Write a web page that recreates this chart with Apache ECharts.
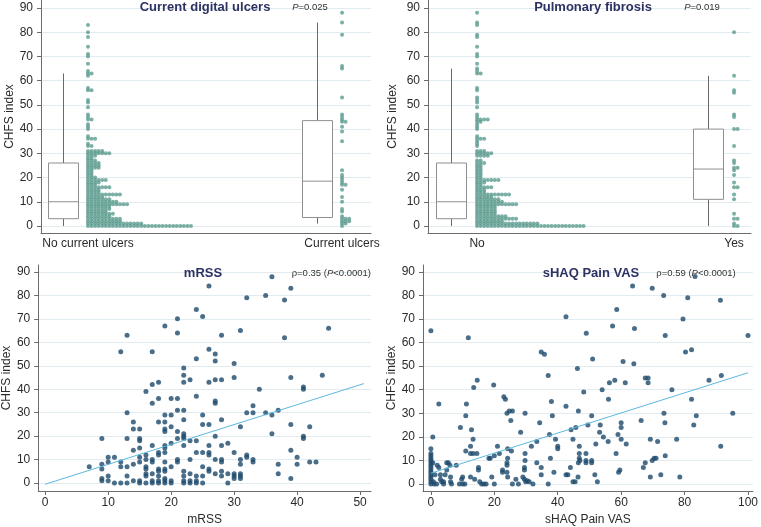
<!DOCTYPE html>
<html><head><meta charset="utf-8">
<script src="https://cdn.jsdelivr.net/npm/echarts@6/dist/echarts.min.js"></script>
<style>html,body{margin:0;padding:0;background:#fff}#c{width:761px;height:527px}</style>
</head><body><div id="c"></div>
<script>
const yTicks = [0,10,20,30,40,50,60,70,80,90];
const mrssTicks = [0,10,20,30,40,50];
const painTicks = [0,20,40,60,80,100];
const ulcerCats = ['No current ulcers','Current ulcers'];
const fibCats = ['No','Yes'];
// [CHFS index value, number of patients]
const ulcerNo = [[0,30],[1,16],[2,10],[3,10],[4,7],[5,8],[6,6],[7,7],[8,7],[9,12],[10,9],[11,7],[12,5],[13,10],[14,4],[15,4],[16,7],[17,3],[18,4],[19,6],[20,3],[21,2],[22,2],[23,2],[24,4],[25,4],[26,4],[27,3],[28,2],[29,3],[30,7],[31,5],[33,2],[34,1],[36,3],[37,1],[40,1],[41,1],[42,1],[44,2],[45,1],[46,1],[49,1],[51,1],[52,1],[56,2],[57,1],[62,1],[63,2],[64,1],[67,1],[70,1],[71,1],[74,1],[78,1],[80,1],[83,1]];
const ulcerYes = [[0,1],[1,2],[2,3],[3,3],[4,1],[6,1],[7,1],[10,1],[12,1],[15,1],[17,2],[18,1],[19,1],[20,1],[21,1],[23,1],[35,1],[39,1],[41,1],[43,2],[44,1],[45,1],[46,1],[53,1],[65,1],[66,1],[79,1],[84,1],[88,1]];
const fibNo = [[0,31],[1,18],[2,8],[3,12],[4,9],[5,6],[6,6],[7,6],[8,6],[9,12],[10,8],[11,7],[12,5],[13,10],[14,3],[15,3],[16,5],[17,2],[18,3],[19,7],[20,2],[21,2],[22,2],[23,2],[24,2],[25,2],[26,3],[27,2],[29,4],[30,5],[31,3],[33,1],[34,1],[35,1],[36,3],[37,1],[40,1],[41,1],[42,1],[43,2],[44,4],[45,1],[46,1],[49,1],[51,1],[52,1],[53,1],[56,1],[57,1],[63,2],[64,1],[65,1],[67,1],[70,1],[71,1],[74,1],[78,1],[79,1],[83,1],[84,1],[88,1]];
const fibYes = [[0,2],[1,1],[3,2],[5,1],[11,1],[13,1],[16,2],[18,1],[21,1],[23,1],[24,2],[26,1],[27,1],[33,1],[40,2],[45,1],[46,1],[55,1],[56,1],[62,1],[80,1]];
// box: [category, lower whisker, Q1, median, Q3, upper whisker]
const ulcerBox = [[0,0,3,10,26,63],[1,1,3.5,18.5,43.5,84]];
const fibBox = [[0,0,3,10,26,65],[1,0,11,23.5,40,62]];
// [mRSS, CHFS index]
const mrssPts = [[7,7],[9,19],[9,8],[9,6],[9,2],[9,1],[10,11],[10,9],[10,3],[10,1],[11,11],[11,0],[12,56],[12,9],[12,7],[12,0],[13,63],[13,30],[13,19],[13,7],[13,3],[13,0],[14,26],[14,23],[14,14],[14,8],[14,1],[15,23],[15,19],[15,18],[15,15],[15,11],[15,9],[15,1],[15,0],[16,39],[16,12],[16,10],[16,7],[16,6],[16,4],[16,3],[16,0],[17,56],[17,42],[17,34],[17,16],[17,10],[17,9],[17,4],[17,1],[17,0],[18,43],[18,36],[18,26],[18,13],[18,12],[18,6],[18,5],[18,3],[18,1],[18,0],[19,67],[19,29],[19,26],[19,23],[19,22],[19,16],[19,15],[19,13],[19,9],[19,6],[19,5],[19,2],[19,1],[19,0],[20,36],[20,29],[20,24],[20,17],[20,7],[20,1],[20,0],[21,70],[21,64],[21,36],[21,31],[21,22],[21,19],[21,10],[21,9],[22,49],[22,46],[22,43],[22,31],[22,27],[22,21],[22,20],[22,19],[22,16],[22,5],[22,3],[22,1],[22,0],[23,44],[23,18],[23,10],[23,4],[23,1],[23,0],[24,74],[24,53],[24,37],[24,18],[24,13],[24,3],[24,1],[24,0],[25,71],[25,29],[25,25],[25,13],[25,7],[25,3],[25,0],[26,84],[26,57],[26,43],[26,25],[26,16],[26,13],[26,12],[26,6],[26,5],[27,55],[27,52],[27,44],[27,35],[27,34],[27,20],[27,10],[27,4],[28,63],[28,44],[28,27],[28,16],[28,10],[28,9],[28,5],[28,3],[29,17],[29,4],[29,0],[30,51],[30,45],[30,13],[30,4],[30,3],[30,2],[31,65],[31,24],[31,10],[31,8],[31,4],[31,3],[31,2],[32,79],[32,30],[32,12],[32,11],[33,33],[33,30],[33,10],[33,9],[34,40],[35,80],[35,30],[36,88],[36,29],[36,21],[37,31],[37,8],[37,4],[38,78],[38,62],[39,83],[39,45],[39,25],[39,14],[39,2],[40,11],[40,8],[41,41],[41,40],[41,20],[41,19],[42,24],[42,9],[43,9],[44,46],[45,66]];
// [sHAQ Pain VAS, CHFS index]
const painPts = [[0,65],[0,15],[0,13],[0,12],[0,11],[0,10],[0,9],[0,8],[0,7],[0,6],[0,5],[0,4],[0,3],[0,2],[0,1],[0,0],[0.6,20],[0.6,9],[0.8,1],[1,0],[1.3,4],[1.8,0],[2.5,34],[2,8],[2.5,7],[3,4],[3,2],[3.4,1],[4,1],[4,0],[4.5,4],[5,9],[5,6],[5.5,9],[6,8],[6.2,3],[6.2,1],[6.5,0],[8,8],[9.3,24],[9,0],[9.7,2],[10,3],[10,0],[10.7,0],[11,14],[11,29],[11.2,34],[11.8,62],[12.5,16],[12.5,13],[13.3,13],[14.5,13],[12.8,23],[13.3,19],[13.5,41],[12.5,3],[13.8,2],[14.6,44],[15,6],[15,7],[15.4,1],[16,0],[16.7,0],[17.4,0],[18.3,11],[18.7,11],[19.2,3],[19.8,42],[20,0],[20,12],[21,16],[21.6,13],[22.6,6],[22.6,5],[23,37],[23.5,36],[24,9],[24,8],[24,30],[24.2,15],[24.2,11],[24,5],[24.2,3],[24.7,31],[25.7,31],[25.2,27],[25.4,14],[25.7,0],[26.8,2],[27.6,0],[28.3,22],[29,3],[29.5,2],[29.9,1],[29.7,30],[29.7,13],[29.7,10],[29.5,7],[29.5,6],[30.4,1.4],[31,1],[31.7,16],[32.2,0],[33.4,18],[33.4,9],[34.3,26],[34.8,56],[35.8,55],[34.8,7],[34.8,4],[37,46],[37,0],[37.4,21],[37.7,11],[38,35],[38.3,29],[38.8,5],[39.3,19],[40,16],[40,15],[42.6,71],[42.6,33],[42.6,4],[43.2,4],[44,7],[44.2,23],[44.8,19],[44.8,1],[45.5,1],[45.7,24],[46.2,49],[46.4,3],[46.5,31],[46.8,16],[46.8,13],[46.8,11],[46.5,9],[47,10],[48.2,39],[48.9,13],[48.9,9],[48.9,10],[49,64],[49.5,25],[50.7,29],[50.7,10],[50.7,9],[51,53],[51.7,4],[52,17],[52.5,1],[53.2,22],[53.4,25],[54,40],[54.4,20],[55.9,18],[56,36],[56.3,43],[57.3,67],[58,44],[58.4,13],[58.6,74],[59,21],[59.2,5],[59.6,6],[60,24],[60,26],[60,19],[60.6,52],[61.3,43],[61.6,17],[63.6,84],[64,51],[64.2,66],[66.3,27],[67,7],[67.6,45],[68.5,45],[68.5,43],[67.6,9],[69.2,19],[69.2,3],[69.8,83],[69.8,10],[70.4,11],[71,11],[71.5,18],[72.5,4],[73.4,80],[73.5,30],[73.8,26],[73.9,63],[73.9,12],[76,40],[77.5,19],[78.5,3],[79.5,70],[80.3,56],[81,79],[82.2,36],[82.2,57],[82.9,25],[83.3,88],[83.7,29],[87.7,44],[91.3,78],[91.4,16],[91.6,46],[95.2,30],[100,63]];
// fitted line end points
const mrssFit = [[0,-0.5],[50.6,42.4]];
const painFit = [[0,4.6],[100,47.2]];

const FONT = 'Liberation Sans, Arial, Helvetica, sans-serif';
const AXC = '#6b6b6b', TXT = '#2a2a2a', GRIDC = '#e2ebf0';
const DOT_PX = 3.55, BOX_W = 30, BOX_OFF = -0.1;

function stackDots(groups, pxPerUnit) {
  const out = [];
  groups.forEach((g, k) => g.forEach(([v, n]) => {
    for (let i = 0; i < n; i++) out.push([k + i * DOT_PX / pxPerUnit, v]);
  }));
  return out;
}
function boxRender(params, api) {
  const x = api.value(0) + BOX_OFF;
  const lo = api.coord([x, api.value(1)]), q1 = api.coord([x, api.value(2)]),
        md = api.coord([x, api.value(3)]), q3 = api.coord([x, api.value(4)]),
        hi = api.coord([x, api.value(5)]);
  const w = BOX_W / 2, cx = Math.round(lo[0]) + 0.5;
  return {type: 'group', children: [
    {type: 'line', shape: {x1: cx, y1: lo[1], x2: cx, y2: q1[1]}, style: {stroke: '#6a6a6a', lineWidth: 1}},
    {type: 'line', shape: {x1: cx, y1: q3[1], x2: cx, y2: hi[1]}, style: {stroke: '#6a6a6a', lineWidth: 1}},
    {type: 'rect', shape: {x: cx - w, y: q3[1], width: 2 * w, height: q1[1] - q3[1]}, style: {fill: '#fff', stroke: '#8f8f8f', lineWidth: 1}},
    {type: 'line', shape: {x1: cx - w, y1: md[1], x2: cx + w, y2: md[1]}, style: {stroke: '#8f8f8f', lineWidth: 1}}
  ]};
}
function yAx(gi, min, max, gap) {
  return {type: 'value', gridIndex: gi, min: min, max: max,
    name: 'CHFS index', nameLocation: 'middle', nameGap: gap,
    nameTextStyle: {fontFamily: FONT, fontSize: 12, color: TXT},
    axisLine: {show: true, onZero: false, lineStyle: {color: AXC}},
    axisTick: {show: true, length: 4, customValues: yTicks, lineStyle: {color: AXC}},
    axisLabel: {customValues: yTicks, fontFamily: FONT, fontSize: 12, color: TXT, margin: 8},
    splitLine: {show: true, lineStyle: {color: GRIDC, width: 1}}};
}
function xCat(gi, min, max, cats) {
  return {type: 'value', gridIndex: gi, min: min, max: max,
    axisLine: {show: true, onZero: false, lineStyle: {color: AXC}}, axisTick: {show: false},
    splitLine: {show: false},
    axisLabel: {customValues: [0, 1], formatter: v => cats[Math.round(v)], fontFamily: FONT, fontSize: 12, color: TXT, margin: 5}};
}
function xVal(gi, min, max, ticks, name) {
  return {type: 'value', gridIndex: gi, min: min, max: max, name: name,
    nameLocation: 'middle', nameGap: 23, nameTextStyle: {fontFamily: FONT, fontSize: 12, color: TXT},
    axisLine: {show: true, onZero: false, lineStyle: {color: AXC}},
    axisTick: {show: true, length: 4, customValues: ticks, lineStyle: {color: AXC}},
    splitLine: {show: false},
    axisLabel: {customValues: ticks, fontFamily: FONT, fontSize: 12, color: TXT, margin: 6}};
}
const tTitle = (x, y, t) => ({type: 'text', x: x, y: y, z: 100, style: {text: t, font: 'bold 13px ' + FONT, fill: '#2c3262', align: 'center', verticalAlign: 'middle'}});
const tNote = (x, y, pre, post, align) => ({type: 'text', x: x, y: y, z: 100, style: {
  text: '{n|' + pre + '}{i|P}{n|' + post + '}', align: align, verticalAlign: 'middle',
  rich: {n: {fontFamily: FONT, fontSize: 9.5, fill: '#333'}, i: {fontFamily: FONT, fontSize: 9.5, fontStyle: 'italic', fill: '#333'}}}});

const chart = echarts.init(document.getElementById('c'), null, {renderer: 'canvas'});
const teal = '#5b9b8e', navy = '#1d4a6c';
chart.setOption({
  animation: false,
  backgroundColor: '#fff',
  grid: [
    {left: 41, top: 0, width: 330, height: 233},
    {left: 428, top: 0, width: 323, height: 233},
    {left: 35, top: 265, width: 336, height: 228},
    {left: 423, top: 265, width: 334, height: 228}
  ],
  xAxis: [
    xCat(0, -0.185, 1.114, ulcerCats),
    xCat(1, -0.191, 1.066, fibCats),
    xVal(2, -1.1, 51.73, mrssTicks, 'mRSS'),
    xVal(3, -2.49, 101.56, painTicks, 'sHAQ Pain VAS')
  ],
  yAxis: [
    yAx(0, -2.9, 93.3, 23),
    yAx(1, -2.9, 93.3, 29),
    yAx(2, -3.38, 92.96, 24),
    yAx(3, -2.94, 92.9, 22)
  ],
  graphic: [
    tTitle(205, 7, 'Current digital ulcers'),
    tNote(310, 7, '', '=0.025', 'center'),
    tTitle(593, 7, 'Pulmonary fibrosis'),
    tNote(702, 7, '', '=0.019', 'center'),
    tTitle(203, 273, 'mRSS'),
    tNote(371, 273, 'ρ=0.35 (', '<0.0001)', 'right'),
    tTitle(591, 273, 'sHAQ Pain VAS'),
    tNote(696, 273, 'ρ=0.59 (', '<0.0001)', 'center')
  ],
  series: [
    {type: 'custom', xAxisIndex: 0, yAxisIndex: 0, renderItem: boxRender, data: ulcerBox, silent: true, z: 2},
    {type: 'custom', xAxisIndex: 1, yAxisIndex: 1, renderItem: boxRender, data: fibBox, silent: true, z: 2},
    {type: 'scatter', xAxisIndex: 0, yAxisIndex: 0, data: stackDots([ulcerNo, ulcerYes], 254), symbolSize: 4, itemStyle: {color: teal}, silent: true, z: 3},
    {type: 'scatter', xAxisIndex: 1, yAxisIndex: 1, data: stackDots([fibNo, fibYes], 257), symbolSize: 4, itemStyle: {color: teal}, silent: true, z: 3},
    {type: 'scatter', xAxisIndex: 2, yAxisIndex: 2, data: mrssPts, symbolSize: 5, itemStyle: {color: navy}, silent: true, z: 3},
    {type: 'line', xAxisIndex: 2, yAxisIndex: 2, data: mrssFit, symbol: 'none', lineStyle: {color: '#5db9de', width: 1}, silent: true, z: 4},
    {type: 'scatter', xAxisIndex: 3, yAxisIndex: 3, data: painPts, symbolSize: 5, itemStyle: {color: navy}, silent: true, z: 3},
    {type: 'line', xAxisIndex: 3, yAxisIndex: 3, data: painFit, symbol: 'none', lineStyle: {color: '#5db9de', width: 1}, silent: true, z: 4}
  ]
});
</script></body></html>
